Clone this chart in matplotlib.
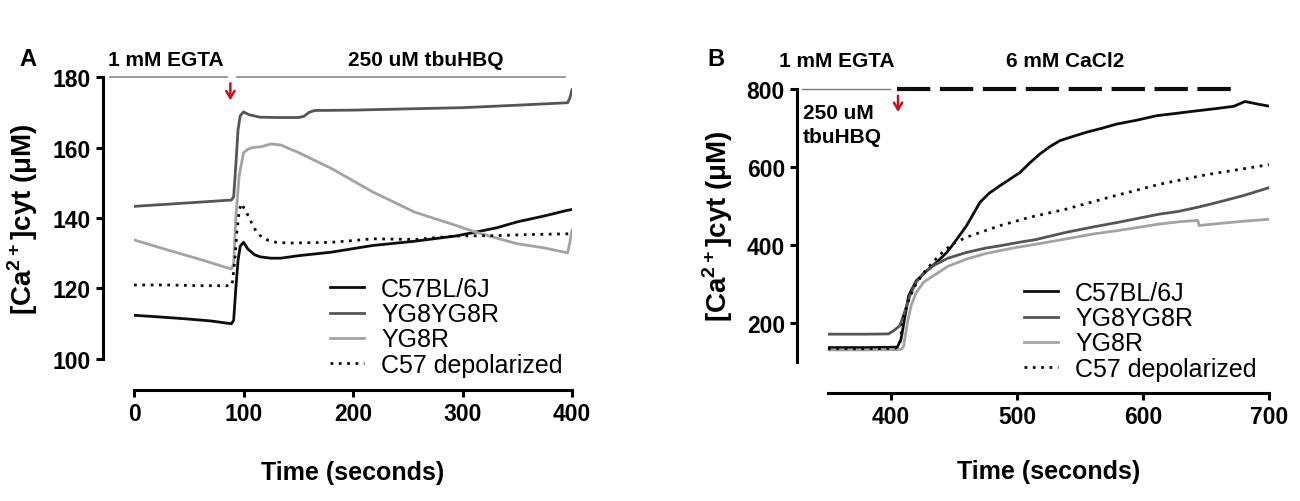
import matplotlib
matplotlib.use("Agg")
import matplotlib.pyplot as plt

plt.rcParams['font.family'] = ['Liberation Sans', 'DejaVu Sans']
plt.rcParams['mathtext.fontset'] = 'custom'
plt.rcParams['mathtext.rm'] = 'Liberation Sans'
plt.rcParams['mathtext.bf'] = 'Liberation Sans:bold'

# ---- panel A data (time in s, [Ca2+]cyt in uM) ----
a_c57_t = [0, 20, 47, 70, 89, 91, 93, 95, 97, 100, 104, 110, 115, 125, 134, 150, 180, 218, 256,
           294, 312, 331, 350, 375, 396, 400]
a_c57_v = [112.4, 112.0, 111.4, 110.8, 110.0, 111, 120, 128, 132, 133.1, 131.2, 129.6, 129.0, 128.6,
           128.6, 129.3, 130.3, 132.2, 133.4, 134.9, 136.0, 137.2, 138.9, 140.6, 142.2, 142.4]

a_yg8yg8r_t = [0, 30, 60, 89, 91, 93, 95, 97, 100, 105, 115, 130, 150, 155, 160, 165, 200, 256,
               300, 350, 396, 398, 400]
a_yg8yg8r_v = [143.3, 143.9, 144.5, 145.1, 146, 155, 165, 169, 170.1, 169.3, 168.6, 168.5, 168.5,
               168.8, 170.0, 170.5, 170.6, 171.0, 171.3, 172.0, 172.7, 174, 176.4]

a_yg8r_t = [0, 30, 60, 89, 91, 93, 96, 100, 104, 108, 116, 125, 134, 150, 180, 218, 256, 294, 312,
            331, 350, 375, 396, 398, 400]
a_yg8r_v = [133.8, 131.0, 128.3, 125.5, 127, 140, 152, 158.5, 159.5, 160, 160.2, 161, 160.7, 158.6,
            154.1, 147.4, 141.7, 137.9, 136.0, 134.3, 132.7, 131.5, 130.1, 133, 136.5]

a_depol_t = [0, 30, 60, 89, 90, 92, 94, 96, 98, 101, 104, 108, 112, 117, 123, 130, 142, 160, 180,
             200, 218, 256, 294, 331, 360, 396, 400]
a_depol_v = [121, 121, 120.8, 120.8, 122, 128, 136, 142, 144.1, 142.5, 140.8, 138.2, 136, 134.5,
             133.6, 133.1, 132.9, 133.0, 133.1, 133.6, 134.1, 133.9, 134.9, 135.0, 135.3, 135.5, 135.6]

# ---- panel B data ----
b_c57_t = [350, 380, 405, 408, 411, 414, 420, 428, 436, 444, 449.5, 460, 470.6, 478, 486.5, 494,
           502.4, 510, 518, 526, 534, 545, 555, 567, 579, 595, 611, 625, 640, 656, 672, 681, 690, 700]
b_c57_v = [137, 137, 138, 159, 215, 270, 308, 333, 355, 380, 402.6, 449.6, 509.4, 533, 552, 568,
           586, 610, 633, 652, 667.5, 679, 689, 699, 710, 720, 731.6, 737, 743, 749, 755.6, 768, 762, 756]

b_yg8yg8r_t = [350, 380, 398, 402, 407, 411, 415, 420, 426, 433.6, 445, 460, 475, 486.5, 500, 515,
               539, 560, 580, 613.5, 628, 645, 660, 680, 700]
b_yg8yg8r_v = [171.4, 171.4, 172, 180, 193, 230, 270, 305, 328, 347, 366, 381, 392, 398, 406, 414,
               432.5, 446, 458, 479.5, 486, 498, 510, 527, 547]

b_yg8r_t = [350, 380, 408, 410, 413, 416, 420, 426, 433.6, 445, 460, 475, 486.5, 500, 515, 539,
            560, 580, 613.5, 630, 643.5, 644.5, 660, 680, 700]
b_yg8r_v = [131, 131, 132, 140, 200, 245, 278, 305, 321, 345, 364, 378, 385.5, 394, 402, 415.6,
            428, 437, 454, 460, 463, 450, 455, 461, 466]

b_depol_t = [350, 380, 403, 405, 407, 410, 413.5, 418, 425, 433, 441, 449.5, 460, 475, 486.5, 510,
             539, 575, 613.5, 650, 700]
b_depol_v = [134, 134, 135, 138, 146, 215, 254, 290, 325, 355, 382, 404, 420, 437, 449.6, 471,
             492, 524, 556, 580, 606]

labels = ['C57BL/6J', 'YG8YG8R', 'YG8R', 'C57 depolarized']
colors = ['#0d0d0d', '#555555', '#a3a3a3', '#0d0d0d']

fig = plt.figure(figsize=(13, 5.02), dpi=100)
axA = fig.add_axes([0.10308, 0.28287, 0.33692, 0.56175])
axB = fig.add_axes([0.63692, 0.27689, 0.33923, 0.54382])


def style(ax, xlim, ylim, xticks, yticks):
    ax.set_xlim(*xlim)
    ax.set_ylim(*ylim)
    ax.set_xticks(xticks)
    ax.set_yticks(yticks)
    for s in ['top', 'right']:
        ax.spines[s].set_visible(False)
    for s in ['left', 'bottom']:
        ax.spines[s].set_position(('outward', 22))
        ax.spines[s].set_linewidth(2.2)
    ax.spines['bottom'].set_bounds(xlim[0], xlim[1])
    ax.spines['left'].set_bounds(ylim[0], ylim[1])
    ax.tick_params(width=2.2, length=5, pad=4, labelsize=16.5)
    for lab in ax.get_xticklabels() + ax.get_yticklabels():
        lab.set_fontweight('bold')
    ax.set_xlabel('Time (seconds)', fontsize=18, fontweight='bold')
    ax.set_ylabel('[Ca$^{\\mathbf{2+}}$]cyt (μM)', fontsize=20, fontweight='bold')


def draw(ax, series):
    handles = []
    for (t, v), lab, c in zip(series, labels, colors):
        ls = (0, (1, 2)) if 'depol' in lab else '-'
        h, = ax.plot(t, v, color=c, lw=2.0, ls=ls, label=lab)
        handles.append(h)
    return handles


draw(axA, [(a_c57_t, a_c57_v), (a_yg8yg8r_t, a_yg8yg8r_v), (a_yg8r_t, a_yg8r_v),
           (a_depol_t, a_depol_v)])
draw(axB, [(b_c57_t, b_c57_v), (b_yg8yg8r_t, b_yg8yg8r_v), (b_yg8r_t, b_yg8r_v),
           (b_depol_t, b_depol_v)])

style(axA, (0, 400), (100, 180), [0, 100, 200, 300, 400], [100, 120, 140, 160, 180])
style(axB, (350, 700), (100, 800), [400, 500, 600, 700], [200, 400, 600, 800])

for ax in (axA, axB):
    ax.xaxis.set_label_coords(0.5, -0.40)
    ax.xaxis.label.set_va('center')

axA.yaxis.set_label_coords(-0.215, 0.5)
axB.yaxis.set_label_coords(-0.21, 0.5)

leg_kw = dict(frameon=False, fontsize=18, handlelength=1.35, handletextpad=0.7,
              labelspacing=0.05, borderpad=0, borderaxespad=0, loc='upper left')
axA.legend(bbox_to_anchor=(330 / 1300, 1 - 278 / 502), bbox_transform=fig.transFigure, **leg_kw)
axB.legend(bbox_to_anchor=(1024 / 1300, 1 - 282 / 502), bbox_transform=fig.transFigure, **leg_kw)

# ---- treatment annotations ----
red = '#c4121a'
axA.plot([-22, 85], [180, 180], color='#8a8a8a', lw=1.2, clip_on=False)
axA.plot([94, 394], [180, 180], color='#8a8a8a', lw=1.2, clip_on=False)
axA.text(29, 185, '1 mM EGTA', fontsize=15, fontweight='bold', ha='center', va='center')
axA.text(266, 185, '250 uM tbuHBQ', fontsize=15, fontweight='bold', ha='center', va='center')
axA.annotate('', xy=(88, 172.6), xytext=(88, 179),
             arrowprops=dict(arrowstyle='->,head_length=0.5,head_width=0.3', color=red, lw=1.8))

axB.plot([329, 399], [800, 800], color='#7a7a7a', lw=1.0, clip_on=False)
axB.plot([405, 671], [800, 800], color='#0d0d0d', lw=3.0, ls=(0, (8, 2.3)), clip_on=False)
axB.text(357, 872, '1 mM EGTA', fontsize=15, fontweight='bold', ha='center', va='center')
axB.text(538, 872, '6 mM CaCl2', fontsize=15, fontweight='bold', ha='center', va='center')
axB.text(330, 741, '250 uM', fontsize=15, fontweight='bold', ha='left', va='center')
axB.text(330, 677, 'tbuHBQ', fontsize=15, fontweight='bold', ha='left', va='center')
axB.annotate('', xy=(405.6, 734), xytext=(405.6, 790),
             arrowprops=dict(arrowstyle='->,head_length=0.5,head_width=0.3', color=red, lw=1.8))

fig.text(28 / 1300, 1 - 60 / 502, 'A', fontsize=17, fontweight='bold', ha='center', va='center')
fig.text(716 / 1300, 1 - 60 / 502, 'B', fontsize=17, fontweight='bold', ha='center', va='center')

fig.savefig('out.png', dpi=100)
